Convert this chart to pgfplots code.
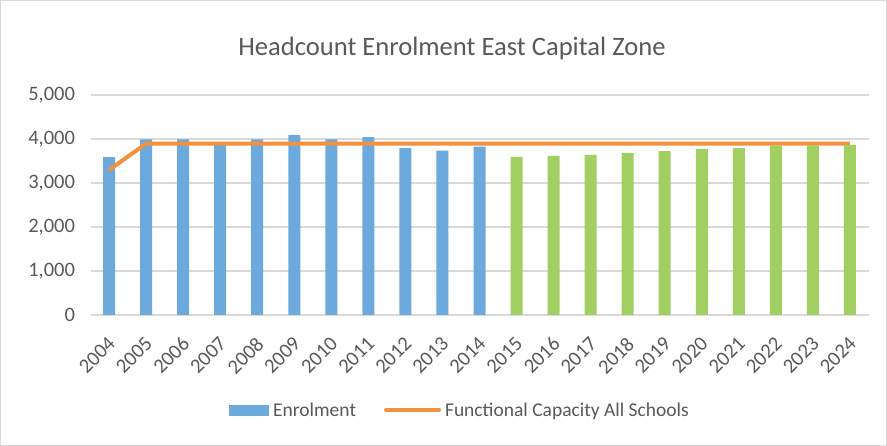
\documentclass[border=0pt]{standalone}
\usepackage{pgfplots}
\pgfplotsset{compat=1.18}
\usepackage{fontspec}
\setmainfont{Carlito}
\definecolor{enrol}{HTML}{6CA9DC}
\definecolor{proj}{HTML}{A1CF62}
\definecolor{capcol}{HTML}{F4913E}
\definecolor{txt}{HTML}{595959}
\definecolor{grd}{HTML}{D9D9D9}
\begin{document}
\begin{tikzpicture}[x=1pt,y=1pt]
\draw[grd, line width=1pt] (0.5,0.5) rectangle (886.5,445.5);
\node[txt, font=\fontsize{26.6}{30}\selectfont] at (452,398) {Headcount Enrolment East Capital Zone};
\begin{axis}[at={(90.5pt,131pt)}, anchor=south west, scale only axis,
  width=778pt, height=220pt,
  xmin=-0.5, xmax=20.5, ymin=0, ymax=5000,
  ytick={0,1000,2000,3000,4000,5000},
  xtick={0,...,20},
  xticklabels={2004,2005,2006,2007,2008,2009,2010,2011,2012,2013,2014,2015,2016,2017,2018,2019,2020,2021,2022,2023,2024},
  /pgf/number format/assume math mode=true,
  /pgf/number format/1000 sep={,},
  scaled y ticks=false,
  ymajorgrids, grid style={grd, line width=1.5pt},
  axis line style={draw=none},
  major tick length=0pt,
  tick label style={txt, font=\fontsize{20.5}{24}\selectfont},
  x tick label style={rotate=45, anchor=north east, inner sep=1pt, xshift=-15pt, yshift=-12pt},
  y tick label style={xshift=-12pt},
  legend style={at={(0.475,-0.432)}, anchor=center, draw=none, legend columns=2,
    font=\fontsize{19.5}{23}\selectfont, text=txt, inner sep=0pt,
    /tikz/every odd column/.append style={column sep=2pt},
    /tikz/every even column/.append style={column sep=26pt}},
  clip=false,
]
\addplot[ybar, bar width=12pt, bar shift=0pt, fill=enrol, draw=none,
  legend image code/.code={\fill[enrol] (0pt,-5.5pt) rectangle (40pt,5.5pt);}]
  coordinates {(0,3590) (1,3990) (2,3990) (3,3920) (4,3990) (5,4090) (6,3990) (7,4040) (8,3790) (9,3735) (10,3825)};
\addlegendentry{Enrolment}
\addplot[capcol, line width=4pt, line join=round,
  legend image code/.code={\draw[capcol, line width=4pt, line cap=round] (0pt,0pt) -- (53pt,0pt);}]
  coordinates {(0,3295) (1,3895) (2,3895) (3,3895) (4,3895) (5,3895) (6,3895) (7,3895) (8,3895) (9,3895) (10,3895) (11,3895) (12,3895) (13,3895) (14,3895) (15,3895) (16,3895) (17,3895) (18,3895) (19,3895) (20,3895)};
\addlegendentry{Functional Capacity All Schools}
\addplot[ybar, bar width=12pt, bar shift=0pt, fill=proj, draw=none, forget plot]
  coordinates {(11,3595) (12,3615) (13,3638) (14,3682) (15,3727) (16,3773) (17,3795) (18,3850) (19,3855) (20,3865)};
\end{axis}
\end{tikzpicture}
\end{document}
